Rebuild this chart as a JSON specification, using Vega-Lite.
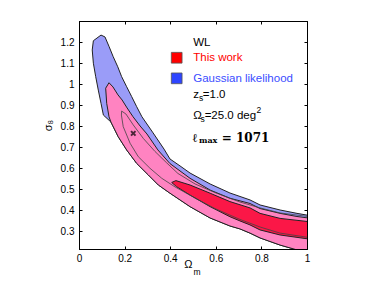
{
  "$schema": "https://vega.github.io/schema/vega-lite/v6.json",
  "width": 228,
  "height": 228,
  "autosize": "none",
  "padding": {"left": 79, "top": 21, "right": 67, "bottom": 32},
  "background": "white",
  "config": {
    "view": {"stroke": "black", "strokeWidth": 1},
    "font": "Liberation Sans",
    "axis": {
      "labelFont": "Liberation Sans",
      "labelFontSize": 10,
      "labelColor": "black",
      "tickColor": "black",
      "tickSize": -3,
      "domain": true,
      "domainColor": "black",
      "domainWidth": 1,
      "grid": false,
      "labelFlush": false,
      "labelOverlap": false,
      "titleFont": "Liberation Sans",
      "titleColor": "black",
      "titleFontWeight": "normal"
    }
  },
  "resolve": {"axis": {"x": "independent", "y": "independent"}},
  "datasets": {
    "contours": [
      {"region": "gauss2", "i": 1, "om": 0.063, "s8": 1.206},
      {"region": "gauss2", "i": 2, "om": 0.0965, "s8": 1.233},
      {"region": "gauss2", "i": 3, "om": 0.114, "s8": 1.224},
      {"region": "gauss2", "i": 4, "om": 0.132, "s8": 1.178},
      {"region": "gauss2", "i": 5, "om": 0.15, "s8": 1.13},
      {"region": "gauss2", "i": 6, "om": 0.17, "s8": 1.082},
      {"region": "gauss2", "i": 7, "om": 0.187, "s8": 1.035},
      {"region": "gauss2", "i": 8, "om": 0.209, "s8": 0.987},
      {"region": "gauss2", "i": 9, "om": 0.231, "s8": 0.94},
      {"region": "gauss2", "i": 10, "om": 0.253, "s8": 0.892},
      {"region": "gauss2", "i": 11, "om": 0.276, "s8": 0.844},
      {"region": "gauss2", "i": 12, "om": 0.325, "s8": 0.767},
      {"region": "gauss2", "i": 13, "om": 0.373, "s8": 0.69},
      {"region": "gauss2", "i": 14, "om": 0.399, "s8": 0.643},
      {"region": "gauss2", "i": 15, "om": 0.443, "s8": 0.61},
      {"region": "gauss2", "i": 16, "om": 0.487, "s8": 0.576},
      {"region": "gauss2", "i": 17, "om": 0.575, "s8": 0.524},
      {"region": "gauss2", "i": 18, "om": 0.662, "s8": 0.481},
      {"region": "gauss2", "i": 19, "om": 0.75, "s8": 0.448},
      {"region": "gauss2", "i": 20, "om": 0.794, "s8": 0.424},
      {"region": "gauss2", "i": 21, "om": 0.882, "s8": 0.4},
      {"region": "gauss2", "i": 22, "om": 0.956, "s8": 0.384},
      {"region": "gauss2", "i": 23, "om": 1.02, "s8": 0.372},
      {"region": "gauss2", "i": 24, "om": 1.02, "s8": 0.186},
      {"region": "gauss2", "i": 25, "om": 0.956, "s8": 0.21},
      {"region": "gauss2", "i": 26, "om": 0.882, "s8": 0.233},
      {"region": "gauss2", "i": 27, "om": 0.794, "s8": 0.267},
      {"region": "gauss2", "i": 28, "om": 0.75, "s8": 0.29},
      {"region": "gauss2", "i": 29, "om": 0.706, "s8": 0.31},
      {"region": "gauss2", "i": 30, "om": 0.662, "s8": 0.324},
      {"region": "gauss2", "i": 31, "om": 0.575, "s8": 0.362},
      {"region": "gauss2", "i": 32, "om": 0.487, "s8": 0.416},
      {"region": "gauss2", "i": 33, "om": 0.399, "s8": 0.48},
      {"region": "gauss2", "i": 34, "om": 0.348, "s8": 0.519},
      {"region": "gauss2", "i": 35, "om": 0.304, "s8": 0.567},
      {"region": "gauss2", "i": 36, "om": 0.253, "s8": 0.622},
      {"region": "gauss2", "i": 37, "om": 0.209, "s8": 0.686},
      {"region": "gauss2", "i": 38, "om": 0.172, "s8": 0.749},
      {"region": "gauss2", "i": 39, "om": 0.14, "s8": 0.819},
      {"region": "gauss2", "i": 40, "om": 0.107, "s8": 0.852},
      {"region": "gauss2", "i": 41, "om": 0.0965, "s8": 0.908},
      {"region": "gauss2", "i": 42, "om": 0.0846, "s8": 0.971},
      {"region": "gauss2", "i": 43, "om": 0.0732, "s8": 1.035},
      {"region": "gauss2", "i": 44, "om": 0.063, "s8": 1.099},
      {"region": "gauss2", "i": 45, "om": 0.058, "s8": 1.162},
      {"region": "gauss2", "i": 46, "om": 0.063, "s8": 1.206},

      {"region": "this2", "i": 1, "om": 0.1316, "s8": 1.006},
      {"region": "this2", "i": 2, "om": 0.149, "s8": 0.986},
      {"region": "this2", "i": 3, "om": 0.171, "s8": 0.948},
      {"region": "this2", "i": 4, "om": 0.189, "s8": 0.924},
      {"region": "this2", "i": 5, "om": 0.211, "s8": 0.886},
      {"region": "this2", "i": 6, "om": 0.237, "s8": 0.844},
      {"region": "this2", "i": 7, "om": 0.268, "s8": 0.8},
      {"region": "this2", "i": 8, "om": 0.298, "s8": 0.762},
      {"region": "this2", "i": 9, "om": 0.346, "s8": 0.686},
      {"region": "this2", "i": 10, "om": 0.399, "s8": 0.621},
      {"region": "this2", "i": 11, "om": 0.487, "s8": 0.551},
      {"region": "this2", "i": 12, "om": 0.575, "s8": 0.495},
      {"region": "this2", "i": 13, "om": 0.662, "s8": 0.456},
      {"region": "this2", "i": 14, "om": 0.75, "s8": 0.431},
      {"region": "this2", "i": 15, "om": 0.794, "s8": 0.407},
      {"region": "this2", "i": 16, "om": 0.882, "s8": 0.384},
      {"region": "this2", "i": 17, "om": 0.956, "s8": 0.369},
      {"region": "this2", "i": 18, "om": 1.02, "s8": 0.36},
      {"region": "this2", "i": 19, "om": 1.02, "s8": 0.186},
      {"region": "this2", "i": 20, "om": 0.956, "s8": 0.21},
      {"region": "this2", "i": 21, "om": 0.882, "s8": 0.233},
      {"region": "this2", "i": 22, "om": 0.794, "s8": 0.267},
      {"region": "this2", "i": 23, "om": 0.75, "s8": 0.29},
      {"region": "this2", "i": 24, "om": 0.706, "s8": 0.31},
      {"region": "this2", "i": 25, "om": 0.662, "s8": 0.324},
      {"region": "this2", "i": 26, "om": 0.575, "s8": 0.362},
      {"region": "this2", "i": 27, "om": 0.487, "s8": 0.416},
      {"region": "this2", "i": 28, "om": 0.399, "s8": 0.48},
      {"region": "this2", "i": 29, "om": 0.348, "s8": 0.519},
      {"region": "this2", "i": 30, "om": 0.304, "s8": 0.567},
      {"region": "this2", "i": 31, "om": 0.253, "s8": 0.622},
      {"region": "this2", "i": 32, "om": 0.209, "s8": 0.686},
      {"region": "this2", "i": 33, "om": 0.172, "s8": 0.749},
      {"region": "this2", "i": 34, "om": 0.14, "s8": 0.819},
      {"region": "this2", "i": 35, "om": 0.1316, "s8": 0.844},
      {"region": "this2", "i": 36, "om": 0.1215, "s8": 0.908},
      {"region": "this2", "i": 37, "om": 0.117, "s8": 0.98},
      {"region": "this2", "i": 38, "om": 0.1316, "s8": 1.006},

      {"region": "this1", "i": 1, "om": 0.4066, "s8": 0.531},
      {"region": "this1", "i": 2, "om": 0.425, "s8": 0.54},
      {"region": "this1", "i": 3, "om": 0.487, "s8": 0.519},
      {"region": "this1", "i": 4, "om": 0.575, "s8": 0.48},
      {"region": "this1", "i": 5, "om": 0.662, "s8": 0.44},
      {"region": "this1", "i": 6, "om": 0.75, "s8": 0.41},
      {"region": "this1", "i": 7, "om": 0.794, "s8": 0.384},
      {"region": "this1", "i": 8, "om": 0.882, "s8": 0.36},
      {"region": "this1", "i": 9, "om": 1.02, "s8": 0.343},
      {"region": "this1", "i": 10, "om": 1.02, "s8": 0.26},
      {"region": "this1", "i": 11, "om": 0.882, "s8": 0.281},
      {"region": "this1", "i": 12, "om": 0.794, "s8": 0.305},
      {"region": "this1", "i": 13, "om": 0.75, "s8": 0.329},
      {"region": "this1", "i": 14, "om": 0.706, "s8": 0.348},
      {"region": "this1", "i": 15, "om": 0.662, "s8": 0.368},
      {"region": "this1", "i": 16, "om": 0.575, "s8": 0.416},
      {"region": "this1", "i": 17, "om": 0.487, "s8": 0.471},
      {"region": "this1", "i": 18, "om": 0.428, "s8": 0.511},
      {"region": "this1", "i": 19, "om": 0.4066, "s8": 0.531},

      {"region": "gauss1", "i": 1, "om": 0.187, "s8": 0.871},
      {"region": "gauss1", "i": 2, "om": 0.206, "s8": 0.857},
      {"region": "gauss1", "i": 3, "om": 0.238, "s8": 0.805},
      {"region": "gauss1", "i": 4, "om": 0.282, "s8": 0.741},
      {"region": "gauss1", "i": 5, "om": 0.333, "s8": 0.679},
      {"region": "gauss1", "i": 6, "om": 0.385, "s8": 0.624},
      {"region": "gauss1", "i": 7, "om": 0.434, "s8": 0.574},
      {"region": "gauss1", "i": 8, "om": 0.509, "s8": 0.524},
      {"region": "gauss1", "i": 9, "om": 0.596, "s8": 0.483},
      {"region": "gauss1", "i": 10, "om": 0.706, "s8": 0.438},
      {"region": "gauss1", "i": 11, "om": 0.794, "s8": 0.41},
      {"region": "gauss1", "i": 12, "om": 0.882, "s8": 0.386},
      {"region": "gauss1", "i": 13, "om": 1.02, "s8": 0.367},
      {"region": "gauss1", "i": 14, "om": 1.02, "s8": 0.267},
      {"region": "gauss1", "i": 15, "om": 0.882, "s8": 0.29},
      {"region": "gauss1", "i": 16, "om": 0.794, "s8": 0.319},
      {"region": "gauss1", "i": 17, "om": 0.706, "s8": 0.355},
      {"region": "gauss1", "i": 18, "om": 0.596, "s8": 0.407},
      {"region": "gauss1", "i": 19, "om": 0.509, "s8": 0.457},
      {"region": "gauss1", "i": 20, "om": 0.421, "s8": 0.51},
      {"region": "gauss1", "i": 21, "om": 0.363, "s8": 0.551},
      {"region": "gauss1", "i": 22, "om": 0.311, "s8": 0.599},
      {"region": "gauss1", "i": 23, "om": 0.26, "s8": 0.654},
      {"region": "gauss1", "i": 24, "om": 0.224, "s8": 0.718},
      {"region": "gauss1", "i": 25, "om": 0.194, "s8": 0.797},
      {"region": "gauss1", "i": 26, "om": 0.186, "s8": 0.852},
      {"region": "gauss1", "i": 27, "om": 0.187, "s8": 0.871}
    ],
    "keys": [
      {"item": "This work", "om": 0.4285, "s8": 1.125},
      {"item": "Gaussian likelihood", "om": 0.4285, "s8": 1.027}
    ],
    "best": [
      {"om": 0.238, "s8": 0.765}
    ],
    "notes": [
      {"role": "main", "t": "WL", "om": 0.501, "s8": 1.197},
      {"role": "red", "t": "This work", "om": 0.501, "s8": 1.122},
      {"role": "blue", "t": "Gaussian likelihood", "om": 0.501, "s8": 1.022},
      {"role": "main", "t": "z", "om": 0.501, "s8": 0.948},
      {"role": "sub", "t": "s", "om": 0.526, "s8": 0.931},
      {"role": "main", "t": "=1.0", "om": 0.543, "s8": 0.948},
      {"role": "main", "t": "Ω", "om": 0.501, "s8": 0.848},
      {"role": "sub", "t": "s", "om": 0.533, "s8": 0.831},
      {"role": "main", "t": "=25.0 deg", "om": 0.551, "s8": 0.848},
      {"role": "sup", "t": "2", "om": 0.778, "s8": 0.878},
      {"role": "math", "t": "ℓ", "om": 0.499, "s8": 0.741},
      {"role": "mathsub", "t": "max", "om": 0.526, "s8": 0.729},
      {"role": "math", "t": "= 1071", "om": 0.626, "s8": 0.741},
      {"role": "xtitle", "t": "Ω", "om": 0.48, "s8": 0.2143},
      {"role": "xsub", "t": "m", "om": 0.518, "s8": 0.2143}
    ]
  },
  "layer": [
    {
      "data": {"name": "contours"},
      "transform": [{"filter": "datum.region === 'gauss2'"}],
      "mark": {"type": "line", "fill": "#9a9cf8", "stroke": "#222222", "strokeWidth": 1, "clip": true},
      "encoding": {
        "x": {"field": "om", "type": "quantitative", "scale": {"domain": [0, 1], "nice": false, "zero": false},
              "axis": {"orient": "bottom", "values": [0, 0.2, 0.4, 0.6, 0.8, 1], "format": "~g", "labelPadding": 7, "title": null}},
        "y": {"field": "s8", "type": "quantitative", "scale": {"domain": [0.2143, 1.3], "nice": false, "zero": false},
              "axis": {"orient": "left", "values": [0.3, 0.4, 0.5, 0.6, 0.7, 0.8, 0.9, 1, 1.1, 1.2], "format": "~g", "labelPadding": 8,
                       "title": "σ₈", "titleFontSize": 11, "titleAngle": 270, "titleX": -31, "titleY": 104, "titleBaseline": "middle", "titleAlign": "center"}},
        "order": {"field": "i", "type": "quantitative"}
      }
    },
    {
      "data": {"name": "contours"},
      "transform": [{"filter": "datum.region === 'this2'"}],
      "mark": {"type": "line", "fill": "#ff83c1", "stroke": "#222222", "strokeWidth": 1, "clip": true},
      "encoding": {
        "x": {"field": "om", "type": "quantitative", "axis": {"orient": "top", "values": [0, 0.2, 0.4, 0.6, 0.8, 1], "labels": false, "title": null}},
        "y": {"field": "s8", "type": "quantitative", "axis": {"orient": "right", "values": [0.3, 0.4, 0.5, 0.6, 0.7, 0.8, 0.9, 1, 1.1, 1.2], "labels": false, "title": null}},
        "order": {"field": "i", "type": "quantitative"}
      }
    },
    {
      "data": {"name": "contours"},
      "transform": [{"filter": "datum.region === 'this1'"}],
      "mark": {"type": "line", "fill": "#fb1747", "stroke": "#222222", "strokeWidth": 1, "clip": true},
      "encoding": {
        "x": {"field": "om", "type": "quantitative", "axis": null},
        "y": {"field": "s8", "type": "quantitative", "axis": null},
        "order": {"field": "i", "type": "quantitative"}
      }
    },
    {
      "data": {"name": "contours"},
      "transform": [{"filter": "datum.region === 'gauss1'"}],
      "mark": {"type": "line", "stroke": "#444444", "strokeWidth": 0.8, "clip": true},
      "encoding": {
        "x": {"field": "om", "type": "quantitative", "axis": null},
        "y": {"field": "s8", "type": "quantitative", "axis": null},
        "order": {"field": "i", "type": "quantitative"}
      }
    },
    {
      "data": {"name": "best"},
      "mark": {"type": "point", "shape": "M-1,-1L1,1M-1,1L1,-1", "filled": false, "stroke": "black", "strokeWidth": 2, "size": 20},
      "encoding": {
        "x": {"field": "om", "type": "quantitative", "axis": null},
        "y": {"field": "s8", "type": "quantitative", "axis": null}
      }
    },
    {
      "data": {"name": "keys"},
      "mark": {"type": "square", "size": 115, "opacity": 1, "strokeWidth": 0.8, "stroke": "#555555"},
      "encoding": {
        "x": {"field": "om", "type": "quantitative", "axis": null},
        "y": {"field": "s8", "type": "quantitative", "axis": null},
        "fill": {"field": "item", "type": "nominal", "scale": {"domain": ["This work", "Gaussian likelihood"], "range": ["#ff0000", "#2e45ff"]}, "legend": null}
      }
    },
    {
      "data": {"name": "notes"},
      "transform": [{"filter": "datum.role === 'main' || datum.role === 'red' || datum.role === 'blue'"}],
      "mark": {"type": "text", "align": "left", "baseline": "middle", "font": "Liberation Sans", "fontSize": 11.5},
      "encoding": {
        "x": {"field": "om", "type": "quantitative", "axis": null},
        "y": {"field": "s8", "type": "quantitative", "axis": null},
        "text": {"field": "t"},
        "color": {"field": "role", "type": "nominal", "scale": {"domain": ["main", "red", "blue"], "range": ["#000000", "#ff0000", "#3a4dff"]}, "legend": null}
      }
    },
    {
      "data": {"name": "notes"},
      "transform": [{"filter": "datum.role === 'sub' || datum.role === 'sup'"}],
      "mark": {"type": "text", "align": "left", "baseline": "middle", "font": "Liberation Sans", "fontSize": 8.5, "color": "black"},
      "encoding": {
        "x": {"field": "om", "type": "quantitative", "axis": null},
        "y": {"field": "s8", "type": "quantitative", "axis": null},
        "text": {"field": "t"}
      }
    },
    {
      "data": {"name": "notes"},
      "transform": [{"filter": "datum.role === 'math'"}],
      "mark": {"type": "text", "align": "left", "baseline": "middle", "font": "DejaVu Serif", "fontWeight": "bold", "fontSize": 12, "color": "black"},
      "encoding": {
        "x": {"field": "om", "type": "quantitative", "axis": null},
        "y": {"field": "s8", "type": "quantitative", "axis": null},
        "text": {"field": "t"}
      }
    },
    {
      "data": {"name": "notes"},
      "transform": [{"filter": "datum.role === 'mathsub'"}],
      "mark": {"type": "text", "align": "left", "baseline": "middle", "font": "DejaVu Serif", "fontWeight": "bold", "fontSize": 8, "color": "black"},
      "encoding": {
        "x": {"field": "om", "type": "quantitative", "axis": null},
        "y": {"field": "s8", "type": "quantitative", "axis": null},
        "text": {"field": "t"}
      }
    },
    {
      "data": {"name": "notes"},
      "transform": [{"filter": "datum.role === 'xtitle'"}],
      "mark": {"type": "text", "align": "center", "baseline": "middle", "font": "Liberation Sans", "fontSize": 11, "color": "black", "dy": 16},
      "encoding": {
        "x": {"field": "om", "type": "quantitative", "axis": null},
        "y": {"field": "s8", "type": "quantitative", "axis": null},
        "text": {"field": "t"}
      }
    },
    {
      "data": {"name": "notes"},
      "transform": [{"filter": "datum.role === 'xsub'"}],
      "mark": {"type": "text", "align": "center", "baseline": "middle", "font": "Liberation Sans", "fontSize": 8.5, "color": "black", "dy": 23},
      "encoding": {
        "x": {"field": "om", "type": "quantitative", "axis": null},
        "y": {"field": "s8", "type": "quantitative", "axis": null},
        "text": {"field": "t"}
      }
    }
  ]
}
